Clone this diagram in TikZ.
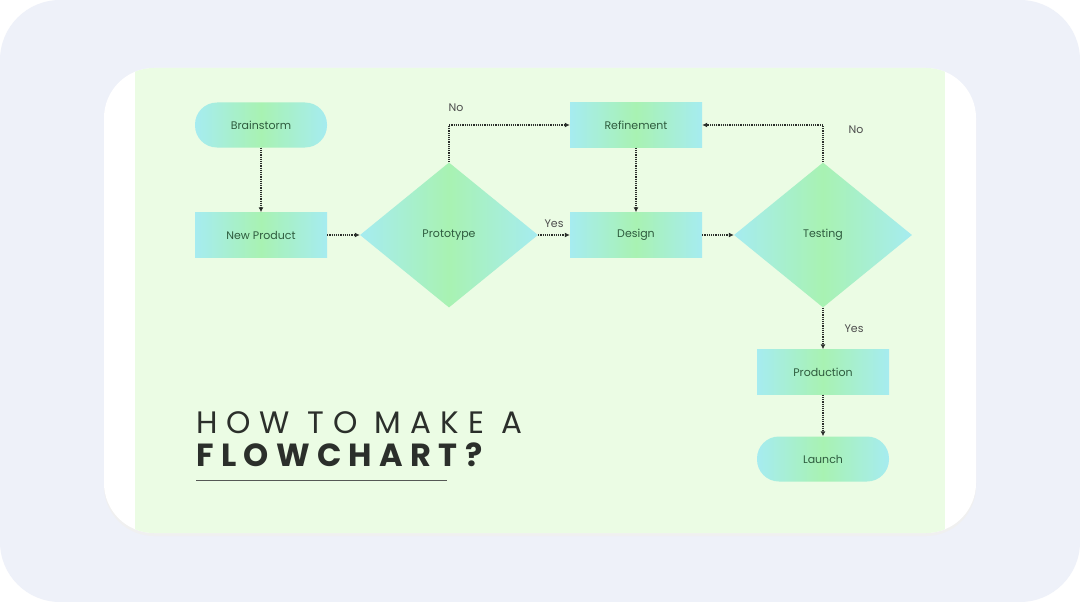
\documentclass[tikz,border=0pt]{standalone}
\usepackage{fontspec}
\setmainfont{Poppins}
\usetikzlibrary{shapes.geometric, arrows.meta}
\definecolor{pagebg}{HTML}{EEF1F9}
\definecolor{panel}{HTML}{EBFCE4}
\definecolor{aqua}{HTML}{A6ECF0}
\definecolor{mint}{HTML}{A8F2B2}
\definecolor{txtgreen}{HTML}{2E5B3E}
\definecolor{lblgrey}{HTML}{4D4D4D}
\definecolor{ink}{HTML}{2B2F2B}
\begin{document}
\begin{tikzpicture}[x=1pt, y=-1pt, font=\fontsize{11}{13}\selectfont, >={Latex[length=5pt,width=5pt]},
          grad/.style={shade, left color=aqua, right color=aqua, middle color=mint, text=txtgreen, inner sep=0pt},
          boxnode/.style={grad, rectangle, minimum width=132pt, minimum height=45pt},
          pill/.style={boxnode, rounded corners=22pt},
          decide/.style={grad, diamond, minimum width=178pt, minimum height=145pt},
          flow/.style={->, densely dotted, line width=1.2pt, ink},
          lbl/.style={text=lblgrey}]
        \useasboundingbox (0,0) rectangle (1080,602);
        \fill[white] (0,0) rectangle (1080,602);
        \fill[pagebg, rounded corners=60pt] (0,0) rectangle (1080,602);
        \fill[black!6, rounded corners=50pt] (104,71) rectangle (976,536);
        \fill[white, rounded corners=50pt] (104,68) rectangle (976,533);
        \begin{scope}
          \clip[rounded corners=50pt] (104,68) rectangle (976,533);
          \fill[panel] (135,60) rectangle (945,540);
        \end{scope}
        \node[pill] (brain) at (261,125) {Brainstorm};
        \node[boxnode] (newprod) at (261,235) {New Product};
        \node[decide] (proto) at (449,235) {Prototype};
        \node[boxnode] (refine) at (636,125) {Refinement};
        \node[boxnode] (design) at (636,235) {Design};
        \node[decide] (test) at (823,235) {Testing};
        \node[boxnode] (prod) at (823,372) {Production};
        \node[pill] (launch) at (823,459) {Launch};
        \node[lbl] (no1) at (456,108) {No};
        \node[lbl] (no2) at (856,130) {No};
        \node[lbl] (yes2) at (854,329) {Yes};
        \draw[flow] (brain) -- (newprod);
        \draw[flow] (newprod) -- (proto);
        \draw[flow] (proto.north) |- (refine.west);
        \draw[flow] (proto) -- node[lbl, above=3pt] (yes1) {Yes} (design);
        \draw[flow] (refine) -- (design);
        \draw[flow] (design) -- (test);
        \draw[flow] (test.north) |- (refine.east);
        \draw[flow] (test) -- (prod);
        \draw[flow] (prod) -- (launch);
        \node[anchor=base west, inner sep=0pt, text=ink, font=\fontsize{31}{33}\selectfont\addfontfeature{LetterSpace=29}] (title1) at (196,433) {HOW TO MAKE A};
        \node[anchor=base west, inner sep=0pt, text=ink, font=\fontsize{32}{34}\selectfont\bfseries\addfontfeature{LetterSpace=23}] (title2) at (196,466) {FLOWCHART?};
        \draw[ink!80, line width=0.8pt] (196,480) -- (447,480);
      \end{tikzpicture}
\end{document}
